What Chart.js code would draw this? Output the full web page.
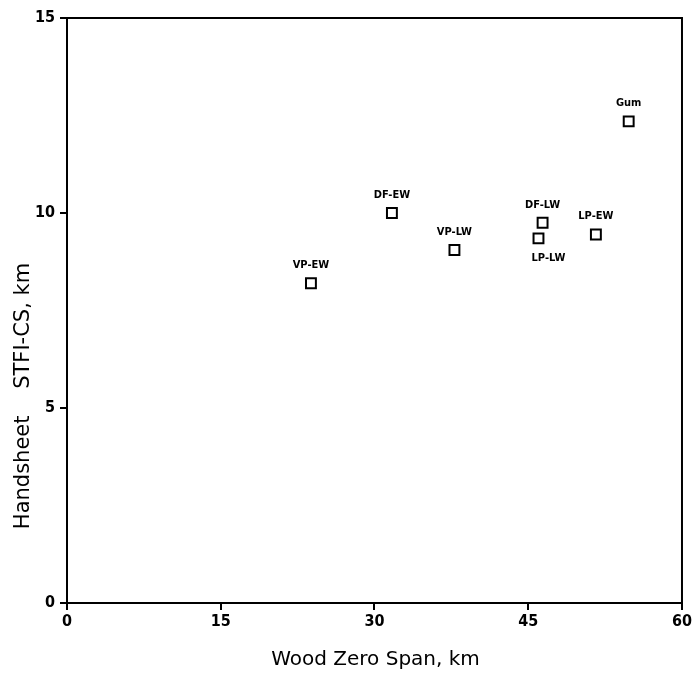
<!DOCTYPE html>
<html>
<head>
<meta charset="utf-8">
<script src="https://cdn.jsdelivr.net/npm/chart.js@4/dist/chart.umd.min.js"></script>
<style>
  html, body { margin: 0; padding: 0; background: #fff; }
  #wrap { width: 694px; height: 675px; }
</style>
</head>
<body>
<div id="wrap"><canvas id="c" width="694" height="675"></canvas></div>
<script>
const pointLabels = ["VP-EW", "DF-EW", "VP-LW", "DF-LW", "LP-LW", "LP-EW", "Gum"];
const woodZeroSpan = [23.8, 31.7, 37.8, 46.4, 46.0, 51.6, 54.8];
const handsheetSTFI = [8.2, 10.0, 9.05, 9.75, 9.35, 9.45, 12.35];
const labelBelow = [false, false, false, false, true, false, false];
const xTicks = [0, 15, 30, 45, 60];
const yTicks = [0, 5, 10, 15];
const xTitle = "Wood Zero Span, km";
const yTitle = "Handsheet    STFI-CS, km";

const points = woodZeroSpan.map((x, i) => ({ x: x, y: handsheetSTFI[i] }));

const framePlugin = {
  id: 'frame',
  afterDraw(chart) {
    const ctx = chart.ctx;
    const a = chart.chartArea;
    ctx.save();
    ctx.strokeStyle = '#000';
    ctx.lineWidth = 2;
    ctx.beginPath();
    ctx.moveTo(a.left, a.top);
    ctx.lineTo(a.right, a.top);
    ctx.lineTo(a.right, a.bottom);
    ctx.stroke();
    // point labels
    const meta = chart.getDatasetMeta(0);
    ctx.fillStyle = '#000';
    ctx.font = 'bold 11px "DejaVu Sans Condensed", "DejaVu Sans", sans-serif';
    ctx.textAlign = 'center';
    ctx.textBaseline = 'middle';
    meta.data.forEach((el, i) => {
      const dy = labelBelow[i] ? 20 : -18;
      const dx = labelBelow[i] ? 10 : 0;
      ctx.fillText(pointLabels[i], el.x + dx, el.y + dy);
    });
    // axis titles
    ctx.font = '20px "DejaVu Sans", sans-serif';
    ctx.textBaseline = 'middle';
    ctx.fillText(xTitle, (a.left + a.right) / 2 + 1, 660);
    ctx.font = '21px "DejaVu Sans", sans-serif';
    ctx.translate(24, 396);
    ctx.rotate(-Math.PI / 2);
    ctx.fillText(yTitle, 0, 0);
    ctx.restore();
  }
};

new Chart(document.getElementById('c'), {
  type: 'scatter',
  data: {
    datasets: [{
      data: points,
      pointStyle: 'rect',
      radius: 7,
      borderColor: '#000',
      borderWidth: 2,
      backgroundColor: 'rgba(0,0,0,0)'
    }]
  },
  options: {
    responsive: false,
    animation: false,
    devicePixelRatio: 1,
    layout: { padding: { left: 0, top: 18, right: 12, bottom: 0 } },
    plugins: { legend: { display: false }, tooltip: { enabled: false } },
    scales: {
      x: {
        type: 'linear',
        min: 0, max: 60,
        afterBuildTicks(scale) { scale.ticks = xTicks.map(v => ({ value: v })); },
        afterFit(scale) { scale.height = 72; },
        border: { display: true, color: '#000', width: 2 },
        grid: { display: true, drawOnChartArea: false, drawTicks: true, tickLength: 7, color: '#000', lineWidth: 2 },
        ticks: { color: '#000', padding: 2, maxRotation: 0, font: { family: '"DejaVu Sans Condensed", "DejaVu Sans", sans-serif', size: 16, weight: 'bold' } }
      },
      y: {
        type: 'linear',
        min: 0, max: 15,
        afterBuildTicks(scale) { scale.ticks = yTicks.map(v => ({ value: v })); },
        afterFit(scale) { scale.width = 67; },
        border: { display: true, color: '#000', width: 2 },
        grid: { display: true, drawOnChartArea: false, drawTicks: true, tickLength: 7, color: '#000', lineWidth: 2 },
        ticks: { color: '#000', padding: 5, font: { family: '"DejaVu Sans Condensed", "DejaVu Sans", sans-serif', size: 16, weight: 'bold' } }
      }
    }
  },
  plugins: [framePlugin]
});
</script>
</body>
</html>
